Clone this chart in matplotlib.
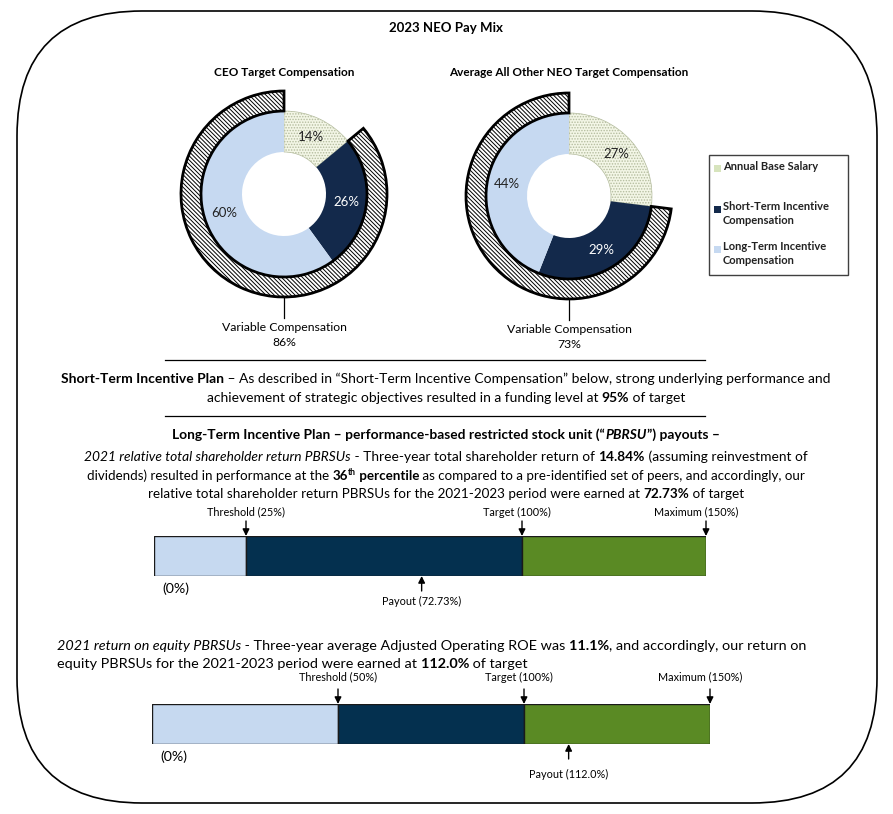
import numpy as np
import matplotlib.pyplot as plt
from matplotlib.patches import FancyBboxPatch, Rectangle

plt.rcParams['font.family'] = ['Lato', 'DejaVu Sans']
plt.rcParams['hatch.linewidth'] = 0.7

# ---- data ----
components = ['Annual Base Salary', 'Short-Term Incentive\nCompensation',
              'Long-Term Incentive\nCompensation']
ceo_mix = [14, 26, 60]
neo_mix = [27, 29, 44]
ceo_variable = 86
neo_variable = 73

level_names = ['Threshold', 'Target', 'Maximum']
tsr_levels = [0, 25, 100, 150]
tsr_payout = 72.73
roe_levels = [0, 50, 100, 150]
roe_payout = 112.0

stip_funding = 95
tsr_return = 14.84
tsr_rank = 36
roe_value = 11.1

# ---- colours ----
base_col = '#F3F6E6'
sti_col = '#13294B'
lti_col = '#C6D9F1'
legend_cols = ['#D7E4BD', sti_col, lti_col]
bar_cols = ['#C6D9F0', '#04304F', '#5A8A24']

W, H = 893, 814
fig = plt.figure(figsize=(W / 100, H / 100), dpi=100)
canvas = fig.add_axes([0, 0, 1, 1])
canvas.set_xlim(0, W)
canvas.set_ylim(H, 0)
canvas.axis('off')
renderer = fig.canvas.get_renderer()


def px_axes(left, top, width, height):
    return fig.add_axes([left / W, 1 - (top + height) / H, width / W, height / H])


def text_width(s, **kw):
    t1 = canvas.text(0, 0, '|' + s + '|', **kw)
    t2 = canvas.text(0, 0, '||', **kw)
    w = t1.get_window_extent(renderer).width - t2.get_window_extent(renderer).width
    t1.remove()
    t2.remove()
    return w


def draw_runs(x, y, runs, size, ha='center'):
    # runs: (text, weight, style, superscript)
    sizes = [size * (0.65 if r[3] else 1) for r in runs]
    widths = [text_width(r[0], fontsize=s, fontweight=r[1], fontstyle=r[2])
              for r, s in zip(runs, sizes)]
    x0 = x - sum(widths) / 2 if ha == 'center' else x
    for r, s, w in zip(runs, sizes, widths):
        canvas.text(x0, y - (size * 0.5 if r[3] else 0), r[0], fontsize=s,
                    fontweight=r[1], fontstyle=r[2], ha='left', va='baseline')
        x0 += w


N, B, I = 'normal', 'bold', 'italic'

# frame
canvas.add_patch(FancyBboxPatch((17, 11), 860, 792, boxstyle='round,pad=0,rounding_size=125',
                                fill=False, edgecolor='black', linewidth=1.2))
canvas.text(446, 28, '2023 NEO Pay Mix', fontsize=9.5, fontweight='bold', ha='center', va='center')


def donut(cx, cy, mix, variable, title):
    ax = px_axes(cx - 115, cy - 115, 230, 230)
    wedges, _, pcts = ax.pie(mix, radius=83, startangle=90, counterclock=False,
                             colors=[base_col, sti_col, lti_col], autopct='%.0f%%',
                             pctdistance=0.76, wedgeprops=dict(width=41, linewidth=0),
                             textprops=dict(fontsize=9.5, color='#222222'))
    wedges[0].set(hatch='......', edgecolor='#B4BC9E', linewidth=0.5)
    pcts[1].set_color('white')
    outer, _ = ax.pie([100 - variable, variable], radius=103, startangle=90,
                      counterclock=False, wedgeprops=dict(width=20))
    outer[0].set_visible(False)
    outer[1].set(facecolor='white', edgecolor='black', linewidth=2,
                 hatch='\\\\\\\\\\\\\\\\')
    ax.set_xlim(-115, 115)
    ax.set_ylim(-115, 115)
    canvas.text(cx, 73, title, fontsize=8.5, fontweight='bold', ha='center', va='center')
    canvas.plot([cx, cx], [cy + 104, cy + 124], color='black', lw=0.9)
    canvas.text(cx, cy + 141, f'Variable Compensation\n{variable}%', fontsize=8.8,
                ha='center', va='center', linespacing=1.35)


donut(284, 194, ceo_mix, ceo_variable, 'CEO Target Compensation')
donut(569, 196, neo_mix, neo_variable, 'Average All Other NEO Target Compensation')

# legend
canvas.add_patch(Rectangle((709, 155), 139, 120, fill=False, edgecolor='#404040', lw=1))
for lab, col, y in zip(components, legend_cols, [168, 209, 249]):
    canvas.add_patch(Rectangle((714, y - 3.5), 7, 7, facecolor=col, edgecolor='none'))
    canvas.text(723, y - 7.5, lab, fontsize=8, fontweight='bold', va='top', ha='left',
                color='#222222', linespacing=1.3)

# short-term incentive plan text
canvas.plot([165, 705], [360, 360], color='black', lw=0.9)
draw_runs(446, 383, [('Short-Term Incentive Plan', B, N, False),
                     (' – As described in “Short-Term Incentive Compensation” below, strong '
                      'underlying performance and', N, N, False)], 10.0)
draw_runs(446, 402, [('achievement of strategic objectives resulted in a funding level at ', N, N, False),
                     (f'{stip_funding}%', B, N, False), (' of target', N, N, False)], 10.0)
canvas.plot([165, 705], [416, 416], color='black', lw=0.9)

# long-term incentive plan text
draw_runs(446, 439, [('Long-Term Incentive Plan – performance-based restricted stock unit (“', B, N, False),
                     ('PBRSU', B, I, False), ('”) payouts –', B, N, False)], 9.9)
draw_runs(446, 461, [('2021 relative total shareholder return PBRSUs', N, I, False),
                     (' - Three-year total shareholder return of ', N, N, False),
                     (f'{tsr_return:.2f}%', B, N, False),
                     (' (assuming reinvestment of', N, N, False)], 9.9)
draw_runs(446, 480, [('dividends) resulted in performance at the ', N, N, False),
                     (f'{tsr_rank}', B, N, False), ('th', B, N, True), (' percentile', B, N, False),
                     (' as compared to a pre-identified set of peers, and accordingly, our', N, N, False)], 9.6)
draw_runs(446, 498, [('relative total shareholder return PBRSUs for the 2021-2023 period were earned at ', N, N, False),
                     (f'{tsr_payout:.2f}%', B, N, False), (' of target', N, N, False)], 9.7)

draw_runs(57, 650, [('2021 return on equity PBRSUs', N, I, False),
                    (' - Three-year average Adjusted Operating ROE was ', N, N, False),
                    (f'{roe_value}%', B, N, False),
                    (', and accordingly, our return on', N, N, False)], 10.4, ha='left')
draw_runs(57, 668, [('equity PBRSUs for the 2021-2023 period were earned at ', N, N, False),
                    (f'{roe_payout:.1f}%', B, N, False), (' of target', N, N, False)], 10.4, ha='left')


def payout_bar(left, top, width, levels, payout, pay_fmt, label_up, pay_down):
    ax = px_axes(left, top, width, 40)
    ax.barh(0.5, np.diff(levels), left=levels[:-1], height=1, color=bar_cols,
            edgecolor='#1A1A1A', linewidth=1)
    ax.set_xlim(levels[0], levels[-1])
    ax.set_ylim(0, 1)
    ax.axis('off')
    arrow = dict(arrowstyle='-|>', color='black', lw=1, mutation_scale=10, shrinkA=0, shrinkB=0)
    for name, v, dx in zip(level_names, levels[1:], [0, -5, -10]):
        ax.annotate('', xy=(v, 1), xytext=(0, 15), textcoords='offset pixels',
                    xycoords=('data', 'axes fraction'), arrowprops=arrow, annotation_clip=False)
        ax.annotate(f'{name} ({v:g}%)', xy=(v, 1), xytext=(dx, label_up), textcoords='offset pixels',
                    xycoords=('data', 'axes fraction'), ha='center', va='center', fontsize=7.8,
                    annotation_clip=False)
    ax.annotate('', xy=(payout, 0), xytext=(0, -15), textcoords='offset pixels',
                xycoords=('data', 'axes fraction'), arrowprops=arrow, annotation_clip=False)
    ax.annotate(f'Payout ({payout:{pay_fmt}}%)', xy=(payout, 0), xytext=(0, -pay_down),
                textcoords='offset pixels', xycoords=('data', 'axes fraction'),
                ha='center', va='center', fontsize=7.8, annotation_clip=False)
    ax.annotate(f'({levels[0]}%)', xy=(levels[0], 0), xytext=(22, -13), textcoords='offset pixels',
                xycoords=('data', 'axes fraction'), ha='center', va='center', fontsize=10.2,
                annotation_clip=False)


payout_bar(154, 536, 552, tsr_levels, tsr_payout, '.2f', 24, 25)
payout_bar(152, 704, 558, roe_levels, roe_payout, '.1f', 27, 30)

fig.savefig('out.png', dpi=100)
